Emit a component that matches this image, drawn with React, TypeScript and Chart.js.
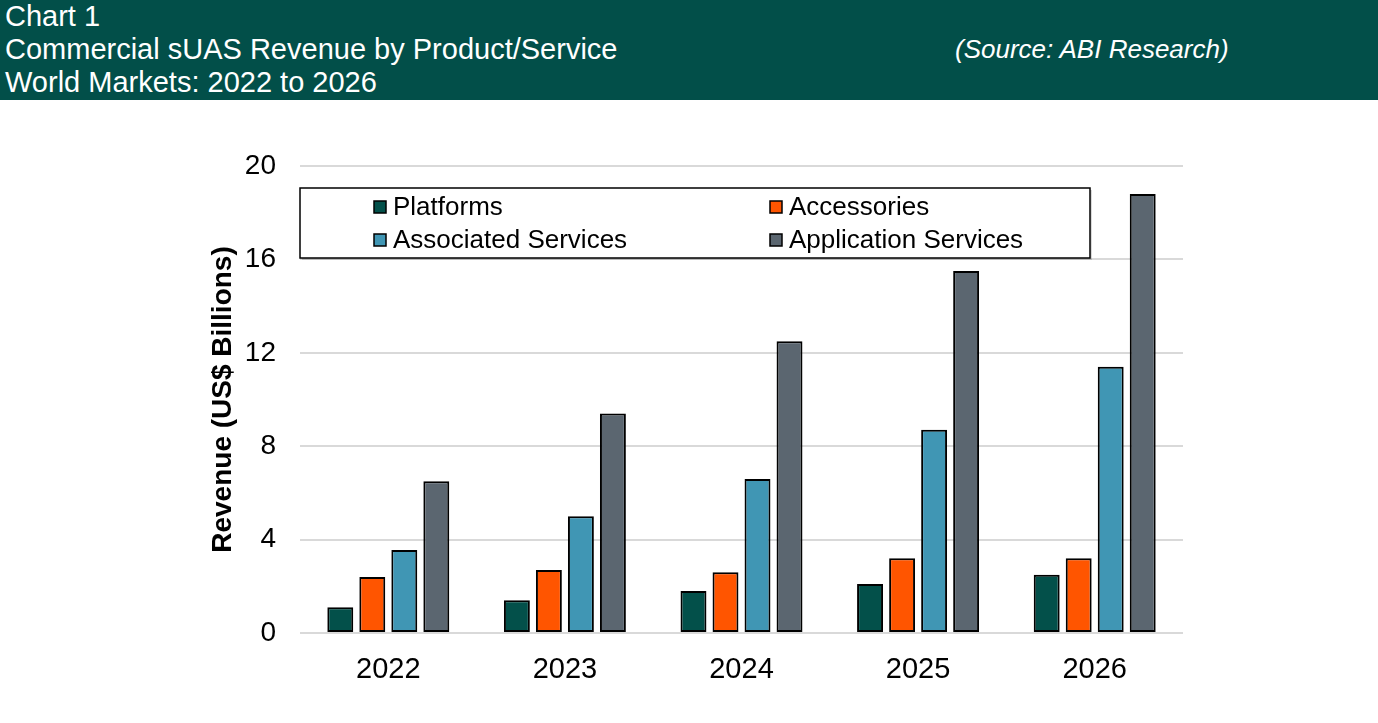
import React, { useEffect, useRef } from "react";
import { Chart, registerables } from "chart.js";

Chart.register(...registerables);

const categories = ["2022", "2023", "2024", "2025", "2026"];
const platforms = [1.1, 1.4, 1.8, 2.1, 2.5];
const accessories = [2.4, 2.7, 2.6, 3.2, 3.2];
const associatedServices = [3.55, 5.0, 6.6, 8.7, 11.4];
const applicationServices = [6.5, 9.4, 12.5, 15.5, 18.8];
const yTicks = [0, 4, 8, 12, 16, 20];

const seriesNames = ["Platforms", "Accessories", "Associated Services", "Application Services"];
const seriesColors = ["#03504A", "#FF5500", "#4096B4", "#5B6670"];

const FONT = "'Liberation Sans', Arial, sans-serif";

const legendPlugin = {
  id: "boxLegend",
  afterDraw(chart: any) {
    const ctx = chart.ctx;
    const area = chart.chartArea;
    const x0 = area.left;
    const y0 = area.top + 22;
    const w = 790;
    const h = 70;
    ctx.save();
    ctx.fillStyle = "rgba(0,0,0,0.15)";
    ctx.fillRect(x0 + 2, y0 + 2, w, h);
    ctx.fillStyle = "#fff";
    ctx.fillRect(x0, y0, w, h);
    ctx.strokeStyle = "#000";
    ctx.lineWidth = 1.5;
    ctx.strokeRect(x0, y0, w, h);
    ctx.font = `26px ${FONT}`;
    ctx.textBaseline = "middle";
    ctx.textAlign = "left";
    chart.data.datasets.forEach((ds: any, i: number) => {
      const col = i % 2;
      const row = Math.floor(i / 2);
      const mx = x0 + 80 + col * 396;
      const my = y0 + 19 + row * 33;
      ctx.fillStyle = ds.backgroundColor;
      ctx.fillRect(mx - 6, my - 6, 12, 12);
      ctx.strokeStyle = "#000";
      ctx.lineWidth = 1.5;
      ctx.strokeRect(mx - 6, my - 6, 12, 12);
      ctx.fillStyle = "#000";
      ctx.fillText(ds.label, mx + 13, my + 1);
    });
    ctx.restore();
  },
};

export default function App() {
  const ref = useRef<HTMLCanvasElement>(null);
  useEffect(() => {
    if (!ref.current) return;
    const values = [platforms, accessories, associatedServices, applicationServices];
    const chart = new Chart(ref.current, {
      type: "bar",
      data: {
        labels: categories,
        datasets: values.map((v, i) => ({
          label: seriesNames[i],
          data: v,
          backgroundColor: seriesColors[i],
          borderColor: "#000",
          borderWidth: 2,
          borderSkipped: false,
          categoryPercentage: 0.725,
          barPercentage: 0.81,
        })),
      },
      options: {
        animation: false,
        responsive: false,
        maintainAspectRatio: false,
        layout: { padding: { left: 202, right: 195, top: 66, bottom: 0 } },
        plugins: { legend: { display: false }, tooltip: { enabled: false } },
        scales: {
          x: {
            grid: { display: false },
            border: { display: false },
            ticks: { color: "#000", font: { family: FONT, size: 29 }, padding: 12 },
            afterFit: (s: any) => { s.height = 90; },
          },
          y: {
            min: 0,
            max: 20,
            afterBuildTicks: (s: any) => { s.ticks = yTicks.map((v) => ({ value: v })); },
            grid: { color: "#D9D9D9", lineWidth: 2, drawTicks: false },
            border: { display: false },
            ticks: { color: "#000", font: { family: FONT, size: 28 }, padding: 24 },
            title: {
              display: true,
              text: "Revenue (US$ Billions)",
              color: "#000",
              font: { family: FONT, size: 28, weight: "bold" },
            },
            afterFit: (s: any) => { s.width = 98; },
          },
        },
      },
      plugins: [legendPlugin],
    });
    return () => chart.destroy();
  }, []);

  const line: React.CSSProperties = { height: 33, lineHeight: "33px", whiteSpace: "nowrap" };
  return (
    <div style={{ position: "absolute", left: 0, top: 0, width: 1378, height: 723, background: "#fff", fontFamily: FONT }}>
      <div style={{ position: "relative", height: 100, background: "#024F49", color: "#fff", fontSize: 29, paddingLeft: 5, boxSizing: "border-box" }}>
        <div style={line}>Chart 1</div>
        <div style={line}>Commercial sUAS Revenue by Product/Service</div>
        <div style={line}>World Markets: 2022 to 2026</div>
        <div style={{ position: "absolute", left: 955, top: 33, ...line, fontSize: 26, fontStyle: "italic" }}>(Source: ABI Research)</div>
      </div>
      <canvas ref={ref} width={1378} height={623} style={{ display: "block", width: 1378, height: 623 }} />
    </div>
  );
}
